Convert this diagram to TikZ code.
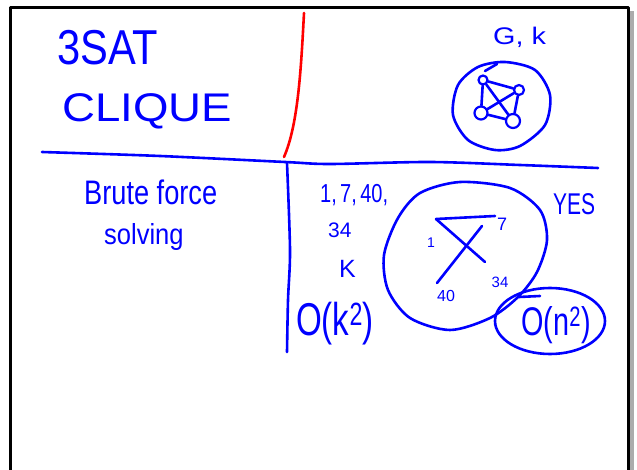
\documentclass[tikz,border=0pt]{standalone}
\usepackage{fontspec}
\setmainfont{Liberation Sans}
\usepackage{graphicx}
\newcommand{\handnarrow}[2]{\scalebox{#1}[1]{#2}}
\newcommand{\penfont}[1]{\fontsize{#1}{#1}\selectfont}

\begin{document}
\begin{tikzpicture}[x=1pt, y=-1pt, line cap=round, line join=round,
    pen/.style={blue, line width=2.6pt},
    redpen/.style={red, line width=2.6pt},
    hand/.style={blue, inner sep=0pt, anchor=base west},
    tag/.style={blue, inner sep=0pt},
    vert/.style={circle, draw=blue, line width=2.2pt, inner sep=0pt}]
  \useasboundingbox (0,0) rectangle (637,470);

  % Board frame
  \fill[gray!65] (630,11) rectangle (634,470);
  \draw[line width=3pt] (10,470) -- (10,8) -- (628,8) -- (628,470);

  % Dividers
  \draw[redpen] (304,13) .. controls (301,70) and (298,125) .. (284,157);
  \draw[pen] plot[smooth] coordinates {(42,152) (160,156) (285,162) (330,164)
    (430,162) (520,165) (598,168)};
  \draw[pen] plot[smooth] coordinates {(287,163) (290,250) (288,300) (287,352)};

  % Problems
  \node[hand, font=\penfont{49}] (sat) at (57,65) {\handnarrow{.85}{3SAT}};
  \node[hand, font=\penfont{40}] (clique) at (62,122) {\handnarrow{1.14}{CLIQUE}};

  % Input graph G, k
  \node[hand, font=\penfont{24}] (gk) at (493,45) {\handnarrow{1.2}{G, k}};
  \draw[pen] plot[smooth cycle] coordinates {(505,62) (535,70) (550,95) (545,125)
    (520,146) (495,150) (468,140) (453,115) (458,85) (478,67)};
  \draw[pen] (485,71) -- (497,64);
  \node[vert, minimum size=9pt] (g1) at (483,80) {};
  \node[vert, minimum size=10pt] (g2) at (519,90) {};
  \node[vert, minimum size=13pt] (g3) at (481,113) {};
  \node[vert, minimum size=14pt] (g4) at (513,121) {};
  \foreach \a/\b in {g1/g2, g1/g3, g1/g4, g2/g3, g2/g4, g3/g4}
    \draw[pen] (\a) -- (\b);

  % Brute force row
  \node[hand, font=\penfont{34}] (brute) at (84,205) {\handnarrow{.8}{Brute force}};
  \node[hand, font=\penfont{29}] (solving) at (104,245) {\handnarrow{.88}{solving}};

  \node[hand, font=\penfont{26}] (pick) at (320,203) {\handnarrow{.77}{1,\,7,\,40,}};
  \node[hand, font=\penfont{21}] (n34) at (328,238) {34};
  \node[hand, font=\penfont{25}] (kk) at (339,278) {K};
  \node[hand, font=\penfont{46}] (ok) at (296,335) {\handnarrow{.72}{O(k\textsuperscript{2})}};

  % Candidate clique check
  \draw[pen] plot[smooth cycle] coordinates {(420,193) (460,182) (510,188) (540,210)
    (547,240) (537,272) (518,297) (490,318) (450,330) (410,318) (388,290)
    (384,255) (398,218)};
  \coordinate (c1) at (436,219);
  \coordinate (c7) at (495,216);
  \coordinate (c34) at (485,262);
  \coordinate (c40) at (437,283);
  \coordinate (c7b) at (482,226);
  \draw[pen] (c1) -- (c7);
  \draw[pen] (c1) -- (c34);
  \draw[pen] (c40) -- (c7b);
  \node[tag, font=\penfont{14}] (l1) at (431,243) {1};
  \node[tag, font=\penfont{18}] (l7) at (502,224) {7};
  \node[tag, font=\penfont{16}] (l40) at (446,296) {40};
  \node[tag, font=\penfont{15}] (l34) at (500,282) {34};

  \node[hand, font=\penfont{30}] (yes) at (553,215) {\handnarrow{.7}{YES}};

  % Cost of the check
  \draw[pen] (550,321) ellipse [x radius=55, y radius=33];
  \draw[pen] (519,297) -- (540,296);
  \node[tag, font=\penfont{40}] (on) at (556,325) {\handnarrow{.72}{O(n\textsuperscript{2})}};
\end{tikzpicture}
\end{document}
